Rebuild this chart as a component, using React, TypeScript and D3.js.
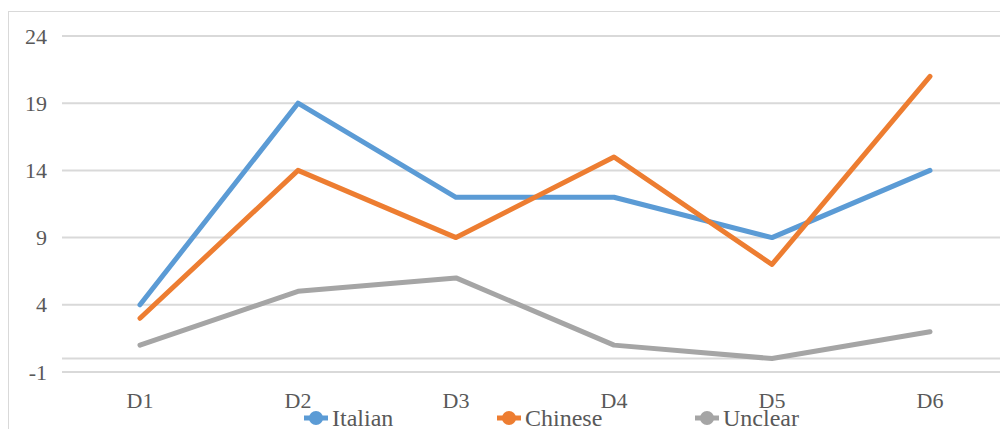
import React from "react";
import * as d3 from "d3";

// Categories and series values
const categories = ["D1", "D2", "D3", "D4", "D5", "D6"];
const italian = [4, 19, 12, 12, 9, 14];
const chinese = [3, 14, 9, 15, 7, 21];
const unclear = [1, 5, 6, 1, 0, 2];
const yTicks = [-1, 4, 9, 14, 19, 24];

const seriesNames = ["Italian", "Chinese", "Unclear"];
const seriesColors = ["#5B9BD5", "#ED7D31", "#A5A5A5"];
const legendX = [316, 509, 707];

const W = 1000;
const H = 429;
const SERIF = '"Liberation Serif"';

export default function App() {
  const series = [italian, chinese, unclear];

  const x = d3.scaleBand<string>().domain(categories).range([61, 1009]).paddingInner(0).paddingOuter(0);
  const y = d3.scaleLinear().domain([-1, 24]).range([372, 36]);
  const cx = (c: string) => (x(c) ?? 0) + x.bandwidth() / 2;

  const line = d3
    .line<number>()
    .x((_, i) => cx(categories[i]))
    .y((d) => y(d));

  return (
    <svg
      width={W}
      height={H}
      style={{ position: "absolute", left: 0, top: 0, background: "#fff" }}
    >
      <rect x={0} y={0} width={W} height={H} fill="#fff" />
      {/* chart area frame */}
      <rect x={8.5} y={11.5} width={1010} height={440} fill="none" stroke="#D9D9D9" strokeWidth={1} />

      {/* horizontal gridlines */}
      {yTicks.map((t) => (
        <line key={t} x1={62} x2={1009} y1={y(t)} y2={y(t)} stroke="#D9D9D9" strokeWidth={2} />
      ))}
      {/* category axis line at zero */}
      <line x1={62} x2={1009} y1={y(0)} y2={y(0)} stroke="#D9D9D9" strokeWidth={2} />

      {/* y labels */}
      {yTicks.map((t) => (
        <text key={t} x={47} y={y(t) + 7.5} textAnchor="end" fontSize={22} fill="#595959" style={{ fontFamily: SERIF }}>
          {t}
        </text>
      ))}

      {/* category labels */}
      {categories.map((c) => (
        <text key={c} x={cx(c)} y={408} textAnchor="middle" fontSize={22} fill="#595959" style={{ fontFamily: SERIF }}>
          {c}
        </text>
      ))}

      {/* series lines */}
      {series.map((s, i) => (
        <path
          key={seriesNames[i]}
          d={line(s) ?? ""}
          fill="none"
          stroke={seriesColors[i]}
          strokeWidth={5}
          strokeLinecap="round"
          strokeLinejoin="round"
        />
      ))}

      {/* legend */}
      {seriesNames.map((n, i) => (
        <g key={n} transform={`translate(${legendX[i]},418)`}>
          <line x1={-12} x2={12} y1={0} y2={0} stroke={seriesColors[i]} strokeWidth={5} />
          <circle r={7} fill={seriesColors[i]} />
          <text x={16} y={8} fontSize={24} fill="#595959" style={{ fontFamily: SERIF }}>
            {n}
          </text>
        </g>
      ))}
    </svg>
  );
}
